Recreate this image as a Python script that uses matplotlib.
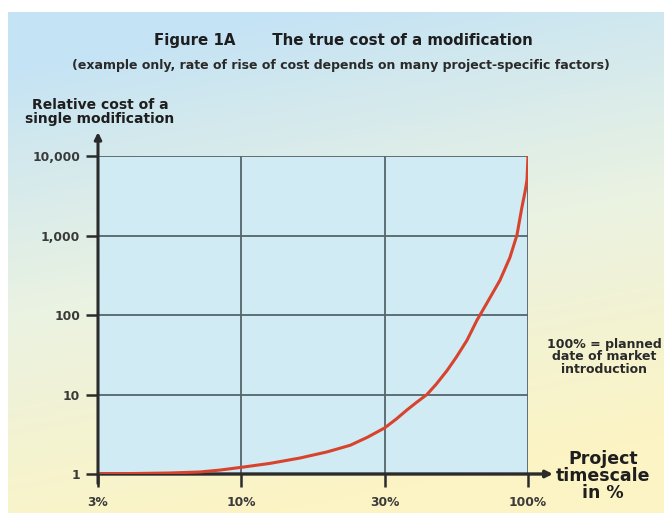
import numpy as np
import matplotlib
matplotlib.use('Agg')
import matplotlib.pyplot as plt
from matplotlib.colors import LinearSegmentedColormap

plt.rcParams['font.family'] = ['DejaVu Sans']
plt.rcParams['font.weight'] = 'bold'

# data (x = tick position 0..3, y = relative cost)
x_labels = ['3%', '10%', '30%', '100%']
y_ticks = [1, 10, 100, 1000, 10000]
y_labels = ['1', '10', '100', '1,000', '10,000']
curve_pos = [0, 0.35, 0.5, 0.71, 0.85, 1.01, 1.2, 1.41, 1.6, 1.76, 1.88, 2.0,
             2.08, 2.156, 2.22, 2.295, 2.36, 2.435, 2.5, 2.574, 2.644, 2.714,
             2.805, 2.874, 2.923, 2.958, 2.98, 2.993, 3.0]
curve_cost = [1.0, 1.02, 1.03, 1.06, 1.12, 1.22, 1.36, 1.59, 1.9, 2.3, 2.9, 3.8,
              4.9, 6.4, 7.9, 10, 13.5, 20, 29.5, 48, 86, 142,
              275, 530, 1015, 2290, 3600, 5000, 10000]

dark = '#2b2b2b'
fig = plt.figure(figsize=(6.64, 5.18), dpi=100, facecolor='white')
W, H = 664, 518

# gradient background panel
bg = fig.add_axes([8 / W, 5 / H, 656 / W, 501 / H])
yy, xx = np.mgrid[0:1:200j, 0:1:200j]
s = np.clip(1.0 * yy + 0.25 * xx - 0.1, 0, 1)
cmap = LinearSegmentedColormap.from_list('bg', ['#c4e3f5', '#eaf2e2', '#fcf4c4'])
bg.imshow(s, cmap=cmap, aspect='auto', extent=[0, 1, 1, 0])
bg.set_axis_off()

ax = fig.add_axes([98 / W, 44 / H, 430 / W, 318 / H])
ax.set_facecolor('#d0ebf3')
ax.set_xlim(0, 3)
ax.set_yscale('log')
ax.set_ylim(1, 10000)

for t in [1, 2, 3]:
    ax.axvline(t, color='#55656b', lw=1.3, zorder=1)
for v in y_ticks[1:]:
    ax.axhline(v, color='#55656b', lw=1.3, zorder=1)

ax.plot(curve_pos, curve_cost, color='#d8432e', lw=2.2, zorder=4,
        solid_capstyle='round', solid_joinstyle='round')

for sp in ax.spines.values():
    sp.set_visible(False)

# axes with arrows
ax.annotate('', xy=(0, 1.075), xytext=(0, -0.03), xycoords='axes fraction',
            arrowprops=dict(arrowstyle='-|>', color=dark, lw=2.2,
                            mutation_scale=10, shrinkA=0, shrinkB=0), zorder=5)
ax.annotate('', xy=(1.058, 0), xytext=(0, 0), xycoords='axes fraction',
            arrowprops=dict(arrowstyle='-|>', color=dark, lw=2.4,
                            mutation_scale=10, shrinkA=0, shrinkB=0), zorder=3)

ax.set_yticks(y_ticks)
ax.set_yticklabels(y_labels)
ax.minorticks_off()
ax.set_xticks(range(len(x_labels)))
ax.set_xticklabels(x_labels)
ax.tick_params(axis='y', length=9, width=1.8, color=dark, pad=4,
               labelsize=8.8, labelcolor='#3a3a3a')
ax.tick_params(axis='x', length=9, width=1.8, color=dark, pad=7,
               labelsize=8.8, labelcolor='#3a3a3a')

fig.text(343 / W, 1 - 40 / H, 'Figure 1A       The true cost of a modification',
         ha='center', va='center', fontsize=10.8, color='#1e1e1e')
fig.text(341 / W, 1 - 66 / H,
         '(example only, rate of rise of cost depends on many project-specific factors)',
         ha='center', va='center', fontsize=9.0, color='#2a2a2a')
fig.text(100 / W, 1 - 112 / H, 'Relative cost of a\nsingle modification',
         ha='center', va='center', fontsize=10, color='#1e1e1e',
         linespacing=1.0)
fig.text(603 / W, 1 - 476 / H, 'Project\ntimescale\nin %',
         ha='center', va='center', fontsize=12.5, color='#1e1e1e',
         linespacing=0.9)
fig.text(604 / W, 1 - 357 / H, '100% = planned\ndate of market\nintroduction',
         ha='center', va='center', fontsize=9.0, color='#2a2a2a',
         linespacing=0.95)

fig.savefig('out.png', dpi=100, facecolor='white')
